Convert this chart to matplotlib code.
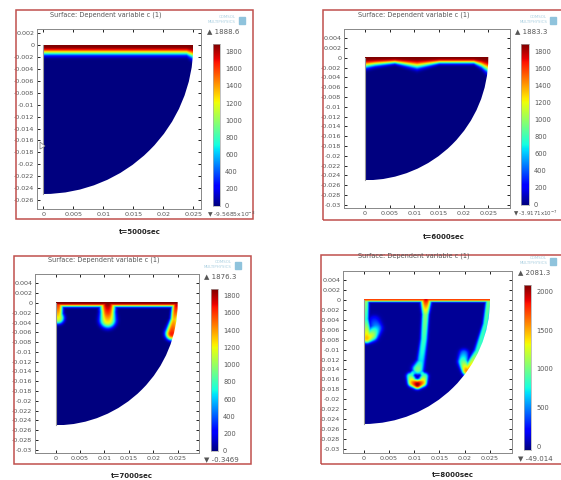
#!/usr/bin/env python3

import numpy as np
import matplotlib
matplotlib.use("Agg")
import matplotlib.pyplot as plt
from matplotlib.patches import Circle, Polygon, Rectangle

W, H = 561, 480
RED = "#c0504d"
TXT = "#555555"

plt.rcParams["font.family"] = ["DejaVu Sans"]

titles = ["Surface: Dependent variable c (1)"] * 4
captions = ["t=5000sec", "t=6000sec", "t=7000sec", "t=8000sec"]
max_labels = ["1888.6", "1883.3", "1876.3", "2081.3"]
min_labels = ["-9.5685x10$^{-3}$", "-3.9171x10$^{-7}$", "-0.3469", "-49.014"]
c_max = [1888.6, 1883.3, 1876.3, 2081.3]
c_min = [-0.0096, 0.0, -0.3469, -49.014]
bar_ticks = [list(range(0, 1801, 200))] * 3 + [[0, 500, 1000, 1500, 2000]]
y_tick_top = [0.002, 0.004, 0.004, 0.004]
y_tick_bottom = [-0.026, -0.03, -0.03, -0.03]
x_ticks = [0, 0.005, 0.01, 0.015, 0.02, 0.025]
x_tick_labels = ["0", "0.005", "0.01", "0.015", "0.02", "0.025"]

# depth of the top boundary layer along x, for each time
layer_x = [
    [0, 0.024, 0.025],
    [0, 0.002, 0.006, 0.0105, 0.015, 0.022, 0.0235, 0.025],
    [0, 0.025],
    [0, 0.025],
]
layer_depth = [
    [0.0020, 0.0020, 0.0027],
    [0.0027, 0.0022, 0.0016, 0.0028, 0.0016, 0.0016, 0.0025, 0.0040],
    [0.0012, 0.0012],
    [0.0007, 0.0007],
]
layer_top = [1888.6, 1883.3, 1876.3, 1750]

# plumes: x, y, value and width read along each plume
plumes = [
    [],
    [],
    [
        ([0.0003, 0.0003, 0.0004], [-0.0005, -0.0025, -0.0032], [1600, 1300, 1150], [0.0010, 0.0010, 0.0012]),
        ([0.0106, 0.0106, 0.0106], [0, -0.002, -0.0036], [1888, 1600, 1250], [0.0015, 0.0014, 0.0016]),
        ([0.0248, 0.0243, 0.0238], [-0.0005, -0.0035, -0.0064], [1750, 1300, 1650], [0.0009, 0.0008, 0.0013]),
    ],
    [
        ([0.0122, 0.0121, 0.0118, 0.0112, 0.0106], [0, -0.003, -0.008, -0.0125, -0.0140], [1900, 1050, 850, 700, 1000], [0.0010, 0.0007, 0.0007, 0.0008, 0.0011]),
        ([0.0091, 0.0095, 0.0105, 0.0115, 0.0119], [-0.0155, -0.0167, -0.0171, -0.0167, -0.0155], [900, 1500, 2050, 1500, 900], [0.0008, 0.0009, 0.0009, 0.0009, 0.0008]),
        ([0.0091, 0.0097, 0.0105, 0.0113, 0.0119], [-0.0155, -0.0147, -0.0146, -0.0147, -0.0155], [900, 700, 600, 700, 900], [0.0006, 0.0005, 0.0005, 0.0005, 0.0006]),
        ([0.0003, 0.0003, 0.0005], [-0.0005, -0.004, -0.0077], [1050, 800, 1450], [0.0006, 0.0006, 0.0010]),
        ([0.0005, 0.0015, 0.0024, 0.0020], [-0.0078, -0.0072, -0.0058, -0.0045], [1450, 1150, 550, 300], [0.0010, 0.0012, 0.0012, 0.0012]),
        ([0.0246, 0.0240, 0.0225, 0.0205], [-0.0005, -0.005, -0.0105, -0.0145], [1000, 850, 850, 1550], [0.0006, 0.0006, 0.0008, 0.0010]),
        ([0.0197, 0.0195, 0.0202], [-0.0110, -0.0125, -0.0143], [500, 900, 1550], [0.0010, 0.0010, 0.0009]),
    ],
]

# pixel boxes: axes (l, t, r, b), data origin and x=0.025 / y=-0.025 pixels
axes_box = [(37, 29, 201, 209), (344, 29, 510, 208), (35, 274, 199, 453), (343, 271, 512, 453)]
data_box = [(43.3, 45.3, 193.3, 194), (365, 57.7, 488.3, 180.3), (55.7, 303, 177.7, 425.3), (363.7, 300, 490, 424)]
bar_box = [(213, 44, 219.5, 206), (521, 44, 528.5, 205), (210.5, 289, 217.5, 451), (524, 285, 531, 450)]
frame_box = [(15.5, 10, 253, 219), (323, 10, 575, 220), (13.5, 256, 250.5, 464), (320.5, 254.5, 575, 464)]
title_xy = [(106, 15), (414, 15), (104, 260), (414, 256)]
caption_xy = [(140, 232), (444, 237), (132, 476), (453, 475)]
mark_xy = [(236, 20), (547, 20), (232, 265), (547, 261)]
min_x = [207, 513, 204, 518]
min_size = [4.3, 4.0, 5, 5]


def px_axes(fig, box):
    l, t, r, b = box
    return fig.add_axes([l / W, 1 - b / H, (r - l) / W, (b - t) / H])


def make_field(i, xx, yy):
    depth = np.interp(xx, layer_x[i], layer_depth[i])
    field = layer_top[i] * np.exp(-(np.abs(yy) / (0.72 * depth)) ** 3)
    for px, py, pv, pw in plumes[i]:
        t = np.linspace(0, 1, 80)
        s = np.linspace(0, 1, len(px))
        for a, b, v, w in zip(np.interp(t, s, px), np.interp(t, s, py), np.interp(t, s, pv), np.interp(t, s, pw)):
            dist = np.hypot(xx - a, yy - b)
            field = np.maximum(field, v * np.exp(-(dist / w) ** 3))
    return field


fig = plt.figure(figsize=(W / 100, H / 100), dpi=100)

xs = np.linspace(0, 0.025, 260)
ys = np.linspace(-0.025, 0, 260)
xx, yy = np.meshgrid(xs, ys)

for i in range(4):
    ax = px_axes(fig, axes_box[i])
    l, t, r, b = axes_box[i]
    x0, y0, x1, y1 = data_box[i]
    sx = 0.025 / (x1 - x0)
    sy = 0.025 / (y1 - y0)
    ax.set_xlim((l - x0) * sx, (r - x0) * sx)
    ax.set_ylim((y0 - b) * sy, (y0 - t) * sy)

    im = ax.imshow(make_field(i, xx, yy), extent=(0, 0.025, -0.025, 0), origin="lower",
                   cmap="jet", vmin=c_min[i], vmax=c_max[i], aspect="auto", interpolation="bilinear")
    im.set_clip_path(Circle((0, 0), 0.025, transform=ax.transData))
    ax.plot([0, 0], [0, -0.025], color="#999999", lw=0.8)

    ax.set_xticks(x_ticks)
    ax.set_xticklabels(x_tick_labels)
    yt = np.arange(y_tick_bottom[i], y_tick_top[i] + 0.0001, 0.002)
    ax.set_yticks(yt)
    ax.set_yticklabels(["0" if abs(v) < 1e-9 else f"{v:g}" for v in yt])
    ax.tick_params(direction="in", top=True, right=True, length=2, width=0.6, labelsize=4.6,
                   labelcolor=TXT, pad=2)
    for s in ax.spines.values():
        s.set_color("#888888")
        s.set_linewidth(0.7)

    # colour bar
    cax = px_axes(fig, bar_box[i])
    grad = np.linspace(c_min[i], c_max[i], 256).reshape(-1, 1)
    cax.imshow(grad, extent=(0, 1, c_min[i], c_max[i]), origin="lower", cmap="jet", aspect="auto")
    cax.set_xticks([])
    cax.yaxis.tick_right()
    cax.set_yticks(bar_ticks[i])
    cax.tick_params(length=0, labelsize=4.8, labelcolor=TXT, pad=4)
    for s in cax.spines.values():
        s.set_color("#aaaaaa")
        s.set_linewidth(0.5)

    bl, bt, br, bb = bar_box[i]
    fig.text((bl - 6) / W, 1 - (bt - 13) / H, "\u25b2 " + max_labels[i], fontsize=5, color=TXT, va="center")
    fig.text(min_x[i] / W, 1 - (bb + 8) / H, "\u25bc " + min_labels[i], fontsize=min_size[i], color=TXT, va="center")

    # frame, title, caption
    fl, ft, fr, fb = frame_box[i]
    fig.add_artist(Rectangle((fl / W, 1 - fb / H), (fr - fl) / W, (fb - ft) / H, fill=False,
                             edgecolor=RED, lw=1.1, transform=fig.transFigure))
    tx, ty = title_xy[i]
    fig.text(tx / W, 1 - ty / H, titles[i], fontsize=4.7, color=TXT, ha="center", va="center")
    cx, cy = caption_xy[i]
    fig.text(cx / W, 1 - cy / H, captions[i], fontsize=5, color="#222222", fontweight="bold",
             ha="center", va="center")

    # watermark
    mx, my = mark_xy[i]
    fig.text(mx / W, 1 - (my - 3) / H, "COMSOL", fontsize=2.8, color="#a9cfe0", ha="right", va="center")
    fig.text(mx / W, 1 - (my + 2) / H, "MULTIPHYSICS", fontsize=2.8, color="#a9cfe0", ha="right", va="center")
    fig.add_artist(Rectangle(((mx + 3) / W, 1 - (my + 4) / H), 6 / W, 7 / H, color="#8fc3dc",
                             transform=fig.transFigure))

# mouse pointer left on the first screenshot
cursor = np.array([(40, 142), (40, 149), (42, 148), (45, 146)], dtype=float)
fig.add_artist(Polygon(np.c_[cursor[:, 0] / W, 1 - cursor[:, 1] / H], closed=True, facecolor="white",
                       edgecolor="#777777", lw=0.5, transform=fig.transFigure, zorder=10))

fig.savefig("out.png", dpi=100)
